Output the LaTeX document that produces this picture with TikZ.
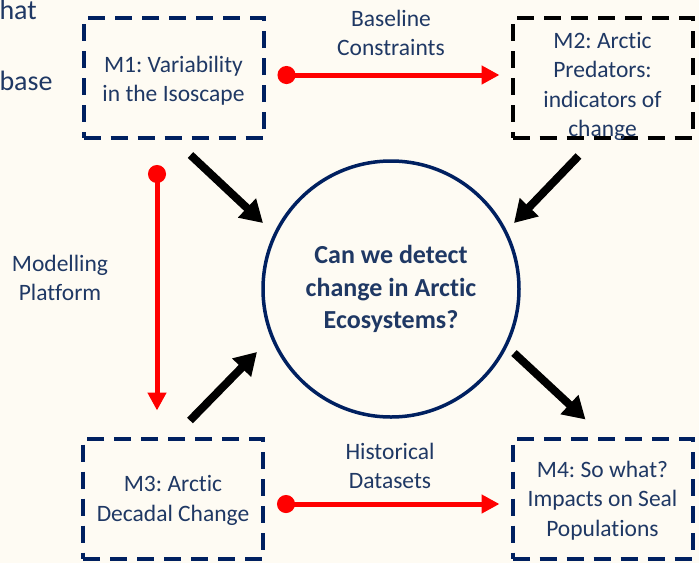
\documentclass[tikz,border=0pt]{standalone}
\usepackage{fontspec}
\setmainfont{Carlito}[Ligatures={NoCommon,NoRare,NoDiscretionary}]
\frenchspacing
\usetikzlibrary{arrows.meta}
\definecolor{cream}{HTML}{FEFBF3}
\definecolor{navy}{HTML}{002060}
\definecolor{navytext}{HTML}{1F3864}
\definecolor{arrred}{HTML}{FF0000}
\tikzset{
	box/.style={draw=navy, line width=4pt, dash pattern=on 17pt off 10pt, minimum width=180pt, minimum height=120pt},
	boxtext/.style={align=center, text=navytext, font=\fontsize{23.5}{29.3}\selectfont},
	qcircle/.style={draw=navy, line width=3.5pt, circle, minimum size=256pt, align=center, text=navytext, font=\fontsize{26}{32.5}\selectfont\bfseries},
	lbl/.style={align=center, text=navytext, font=\fontsize{23.5}{29}\selectfont},
	cuttext/.style={anchor=base west, text=navytext, font=\fontsize{28}{34}\selectfont},
	redarr/.style={draw=arrred, line width=5pt, {Circle[length=18pt]}-{Triangle[length=18pt,width=18pt]}},
	blkarr/.style={draw=black, line width=8pt, -{Triangle[length=22pt,width=25pt]}}
}

\begin{document}
\begin{tikzpicture}[x=1pt, y=-1pt]
			%%%%% START %%%%%
			
			\fill[cream] (0, 0) rectangle (699, 563);
			\useasboundingbox (0, 0) rectangle (699, 563);
			
			\node[cuttext] (cuta) at (-4, 19) {hat};
			\node[cuttext] (cutb) at (-4, 90) {base};
			
			\node[box] (m1) at (173.5, 78) {};
			\node[box, draw=black] (m2) at (602.5, 78) {};
			\node[box] (m3) at (173, 498.5) {};
			\node[box] (m4) at (602.5, 498.5) {};
			
			\node[boxtext] (m1t) at ([yshift=-2.5pt]m1.center) {M1: Variability\\in the Isoscape};
			\node[boxtext] (m2t) at ([yshift=-8.5pt]m2.center) {M2: Arctic\\Predators:\\indicators of\\change};
			\node[boxtext] (m3t) at ([yshift=-2pt]m3.center) {M3: Arctic\\Decadal Change};
			\node[boxtext] (m4t) at ([yshift=-2pt]m4.center) {M4: So what?\\Impacts on Seal\\Populations};
			
			\node[qcircle] (q) at (391, 289) {Can we detect\\change in Arctic\\Ecosystems?};
			
			\node[lbl] (lbase) at (391, 32.5) {Baseline\\Constraints};
			\node[lbl] (lhist) at (390, 466) {Historical\\Datasets};
			\node[lbl] (lmod) at (60, 277.5) {Modelling\\Platform};
			
			\draw[redarr] ([shift={(12, -3)}]m1.east) -- ([shift={(-11, -3)}]m2.west);
			\draw[redarr] ([shift={(12, 5.5)}]m3.east) -- ([shift={(-11, 5.5)}]m4.west);
			\draw[redarr] ([shift={(-16.5, 25)}]m1.south) -- ([shift={(-16, -26)}]m3.north);
			
			\draw[blkarr] ([shift={(-75, 15)}]m1.south east) -- ([shift={(-128, -66)}]q.center);
			\draw[blkarr] ([shift={(68, 16)}]m2.south west) -- ([shift={(123, -66)}]q.center);
			\draw[blkarr] ([shift={(-75, -16)}]m3.north east) -- ([shift={(-134, 63)}]q.center);
			\draw[blkarr] ([shift={(123, 64)}]q.center) -- ([shift={(75, -17)}]m4.north west);
			
			%%%%% END %%%%%
		\end{tikzpicture}
\end{document}
